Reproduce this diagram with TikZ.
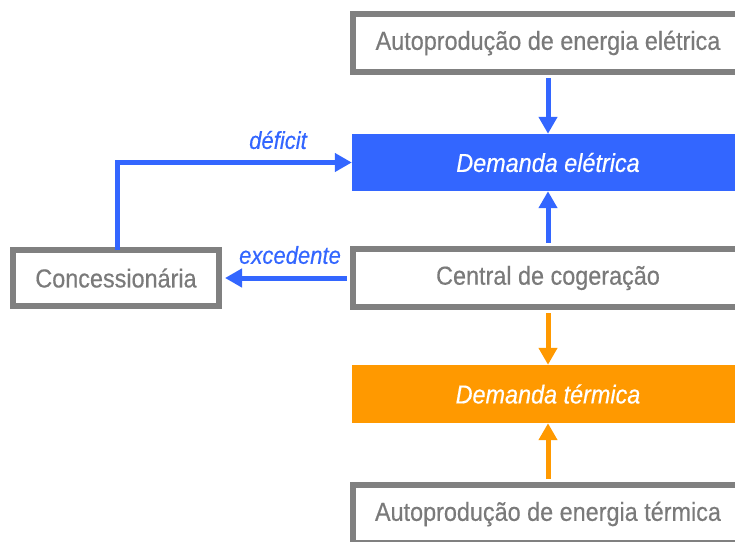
\documentclass[tikz,border=0pt]{standalone}
\usepackage{fontspec}
\setmainfont{Liberation Sans}[FakeStretch=0.9,FakeBold=0.4]
\usetikzlibrary{arrows.meta}
\definecolor{eblue}{HTML}{3366FF}
\definecolor{torange}{HTML}{FF9900}
\definecolor{bgray}{HTML}{808080}
\definecolor{tgray}{HTML}{7A7A7A}
\begin{document}
\begin{tikzpicture}[x=1pt,y=-1pt,
  graybox/.style={draw=bgray,line width=6pt,fill=white,text=tgray,font=\fontsize{26}{30}\selectfont,inner sep=0pt},
  fillbox/.style={text=white,font=\fontsize{26}{30}\selectfont\itshape,inner sep=0pt},
  conn/.style={line width=5pt,-{Triangle[length=17pt,width=18pt]}},
  lbl/.style={text=eblue,font=\fontsize{24.5}{28}\selectfont\itshape,inner sep=0pt}]
\clip (0,0) rectangle (735,541);
\useasboundingbox (0,0) rectangle (735,541);
\node[graybox,minimum width=390pt,minimum height=58pt] (ae) at (548,43) {Autoprodução de energia elétrica};
\node[fillbox,fill=eblue,minimum width=392pt,minimum height=57pt] (de) at (548,162.5) {Demanda elétrica};
\node[graybox,minimum width=390pt,minimum height=58pt] (cc) at (548,278) {Central de cogeração};
\node[fillbox,fill=torange,minimum width=392pt,minimum height=58pt] (dt) at (548,394) {Demanda térmica};
\node[graybox,minimum width=390pt,minimum height=58pt] (at) at (548,514) {Autoprodução de energia térmica};
\node[graybox,minimum width=206pt,minimum height=56pt] (co) at (116,278) {Concessionária};
\draw[conn,eblue] (ae.south) ++(0,3) -- (de.north);
\draw[conn,eblue] (cc.north) ++(0,-3) -- (de.south);
\draw[conn,torange] (cc.south) ++(0,3) -- (dt.north);
\draw[conn,torange] (at.north) ++(0,-3) -- (dt.south);
\draw[conn,eblue] ([xshift=1pt,yshift=-3pt]co.north) |- (de.west);
\draw[conn,eblue] ([xshift=-3pt]cc.west) -- ([xshift=3pt]co.east);
\node[lbl] (lde) at (278,140) {déficit};
\node[lbl] (lex) at (290,255) {excedente};
\end{tikzpicture}
\end{document}
